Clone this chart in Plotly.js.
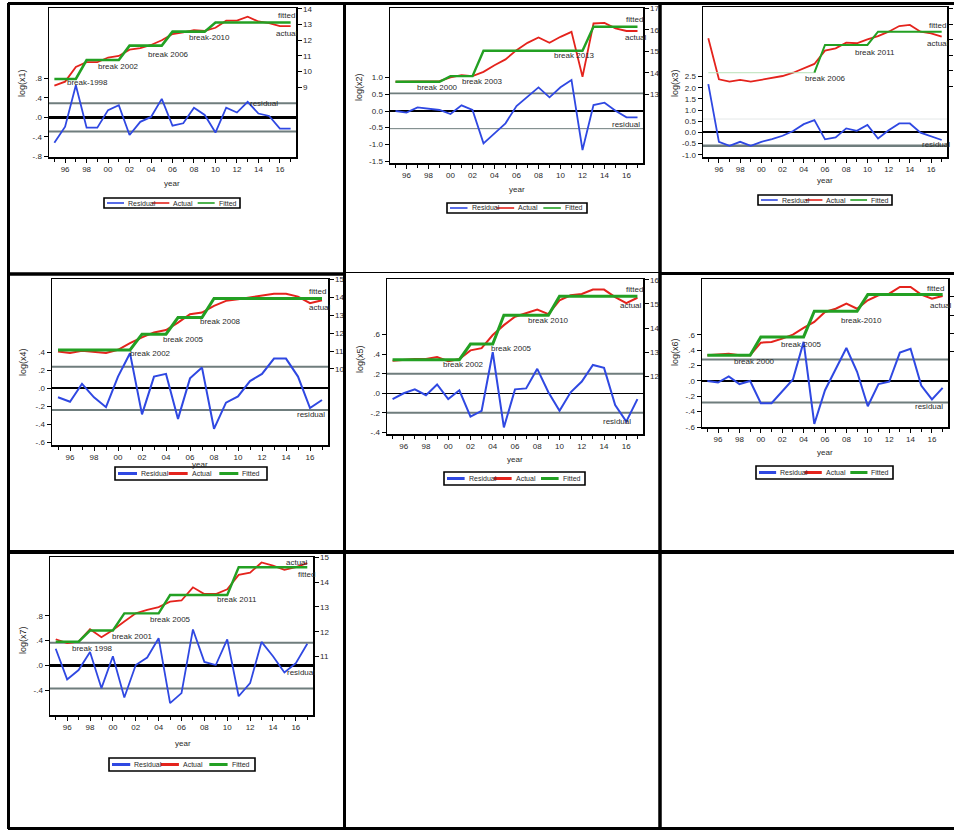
<!DOCTYPE html>
<html><head><meta charset="utf-8">
<script src="https://cdn.plot.ly/plotly-3.0.1.min.js"></script>
<style>html,body{margin:0;padding:0;background:#fff}#chart{width:954px;height:830px}</style>
</head><body><div id="chart"></div>
<script>
// ---------- data ----------
const years = [1995,1996,1997,1998,1999,2000,2001,2002,2003,2004,2005,2006,2007,2008,2009,2010,2011,2012,2013,2014,2015,2016,2017];
const xTickVals = [1996,1998,2000,2002,2004,2006,2008,2010,2012,2014,2016];
const xTickText = ['96','98','00','02','04','06','08','10','12','14','16'];
const seriesNames = ['Residual','Actual','Fitted'];
const yTitles = ['log(x1)','log(x2)','log(x3)','log(x4)','log(x5)','log(x6)','log(x7)'];

const resid1  = [-0.52,-0.19,0.66,-0.21,-0.21,0.15,0.25,-0.36,-0.09,0.01,0.38,-0.17,-0.12,0.20,0.05,-0.31,0.20,0.10,0.32,0.08,0.03,-0.23,-0.23];
const actual1 = [9.10,9.36,10.30,10.60,10.60,10.90,11.00,11.40,11.50,11.70,12.00,12.40,12.50,12.65,12.60,12.80,13.25,13.25,13.50,13.20,13.10,12.90,12.90];
const fitted1 = [9.53,9.53,9.53,10.74,10.74,10.74,10.74,11.66,11.66,11.66,11.66,12.55,12.55,12.55,12.55,13.13,13.13,13.13,13.13,13.13,13.13,13.13,13.13];
const band1 = 0.29;
const leftTicks1 = [-0.8,-0.4,0,0.4,0.8];
const leftText1 = ['-.8','-.4','.0','.4','.8'];
const rightTicks1 = [9,10,11,12,13,14];
const breaks1 = ['break-1998','break 2002','break 2006','break-2010'];

const resid2  = [0.00,-0.05,0.11,0.07,0.03,-0.09,0.17,0.03,-0.97,-0.67,-0.37,0.15,0.43,0.71,0.41,0.71,0.93,-1.17,0.18,0.25,0.01,-0.19,-0.19];
const actual2 = [13.59,13.59,13.59,13.59,13.62,13.79,13.90,13.85,14.05,14.36,14.63,15.06,15.40,15.65,15.40,15.68,15.91,13.82,16.30,16.33,16.07,15.95,15.95];
const fitted2 = [13.59,13.59,13.59,13.59,13.59,13.85,13.85,13.85,15.03,15.03,15.03,15.03,15.03,15.03,15.03,15.03,15.03,15.03,16.15,16.15,16.15,16.15,16.15];
const band2 = 0.53;
const leftTicks2 = [-1.5,-1.0,-0.5,0,0.5,1.0];
const leftText2 = ['-1.5','-1.0','-0.5','0.0','0.5','1.0'];
const rightTicks2 = [13,14,15,16,17];
const breaks2 = ['break 2000','break 2003','break 2013'];

const resid3  = [2.16,-0.42,-0.60,-0.42,-0.60,-0.42,-0.30,-0.15,0.06,0.37,0.55,-0.31,-0.22,0.18,0.07,0.33,-0.27,0.10,0.40,0.40,-0.01,-0.16,-0.34];
const actual3 = [13.09,10.47,10.32,10.43,10.32,10.43,10.53,10.68,10.89,11.17,11.45,12.30,12.45,12.81,12.77,13.02,13.23,13.51,13.87,13.94,13.51,13.40,13.19];
const fitted3 = [10.89,10.89,10.89,10.89,10.89,10.89,10.89,10.89,10.89,10.89,10.89,12.66,12.66,12.66,12.66,12.66,13.51,13.51,13.51,13.51,13.51,13.51,13.51];
const band3 = 0.60;
const leftTicks3 = [-1.0,-0.5,0,0.5,1.0,1.5,2.0,2.5];
const leftText3 = ['-1.0','-0.5','0.0','0.5','1.0','1.5','2.0','2.5'];
const rightTicks3 = [10,11,12,13,14,15];
const breaks3 = ['break 2006','break 2011'];

const resid4  = [-0.10,-0.15,0.05,-0.10,-0.21,0.13,0.39,-0.29,0.13,0.16,-0.34,0.11,0.23,-0.45,-0.16,-0.09,0.08,0.16,0.33,0.33,0.13,-0.22,-0.13];
const actual4 = [10.98,10.89,11.02,10.96,10.89,11.07,11.44,11.76,12.04,12.17,12.59,13.06,13.15,13.52,13.80,13.89,13.98,14.07,14.20,14.20,14.04,13.67,13.83];
const fitted4 = [11.06,11.06,11.06,11.06,11.06,11.06,11.06,11.94,11.94,11.94,12.87,12.87,12.87,13.93,13.93,13.93,13.93,13.93,13.93,13.93,13.93,13.93,13.93];
const band4 = 0.24;
const leftTicks4 = [-0.6,-0.4,-0.2,0,0.2,0.4];
const leftText4 = ['-.6','-.4','-.2','.0','.2','.4'];
const rightTicks4 = [10,11,12,13,14,15];
const breaks4 = ['break 2002','break 2005','break 2008'];

const resid5  = [-0.06,0.00,0.04,-0.02,0.09,-0.06,0.03,-0.24,-0.18,0.42,-0.35,0.04,0.05,0.25,0.01,-0.18,0.01,0.12,0.29,0.26,-0.12,-0.29,-0.06];
const actual5 = [12.64,12.68,12.71,12.71,12.79,12.62,12.71,13.07,13.16,13.71,14.12,14.47,14.63,14.77,14.58,15.15,15.36,15.42,15.60,15.60,15.29,15.04,15.26];
const fitted5 = [12.68,12.68,12.68,12.68,12.68,12.68,12.68,13.33,13.33,13.33,14.53,14.53,14.53,14.53,14.53,15.32,15.32,15.32,15.32,15.32,15.32,15.32,15.32];
const band5 = 0.20;
const leftTicks5 = [-0.4,-0.2,0,0.2,0.4,0.6];
const leftText5 = ['-.4','-.2','.0','.2','.4','.6'];
const rightTicks5 = [12,13,14,15,16];
const breaks5 = ['break 2002','break 2005','break 2010'];

const resid6  = [0.00,-0.02,0.06,-0.04,0.00,-0.29,-0.29,-0.13,0.02,0.51,-0.56,-0.12,0.16,0.43,0.12,-0.33,-0.04,-0.01,0.37,0.42,-0.06,-0.24,-0.09];
const actual6 = [11.82,11.85,11.91,11.82,11.82,12.51,12.55,12.73,12.95,13.31,13.64,14.18,14.36,14.64,14.36,14.82,15.09,15.18,15.55,15.55,15.13,14.91,15.05];
const fitted6 = [11.82,11.82,11.82,11.82,11.82,12.82,12.82,12.82,12.82,12.82,14.22,14.22,14.22,14.22,14.22,15.13,15.13,15.13,15.13,15.13,15.13,15.13,15.13];
const band6 = 0.28;
const leftTicks6 = [-0.6,-0.4,-0.2,0,0.2,0.4,0.6];
const leftText6 = ['-.6','-.4','-.2','.0','.2','.4','.6'];
const rightTicks6 = [12,13,14,15];
const breaks6 = ['break 2000','break 2005','break-2010'];

const resid7  = [0.27,-0.22,-0.07,0.22,-0.36,0.15,-0.51,0.01,0.13,0.44,-0.60,-0.44,0.58,0.06,0.01,0.42,-0.49,-0.28,0.38,0.15,-0.11,0.04,0.35];
const actual7 = [11.70,11.54,11.60,12.10,11.78,12.07,12.41,12.74,12.88,12.99,13.21,13.26,13.79,13.52,13.52,13.71,14.29,14.38,14.79,14.66,14.49,14.60,14.76];
const fitted7 = [11.60,11.60,11.60,12.05,12.05,12.05,12.74,12.74,12.74,12.74,13.48,13.48,13.48,13.48,13.48,13.48,14.60,14.60,14.60,14.60,14.60,14.60,14.60];
const band7 = 0.365;
const leftTicks7 = [-0.8,-0.4,0,0.4,0.8];
const leftText7 = ['-.8','-.4','.0','.4','.8'];
const rightTicks7 = [11,12,13,14,15];
const breaks7 = ['break 1998','break 2001','break 2005','break 2011'];

// ---------- styling / layout ----------
const W = 954, H = 830;
const PX = x => x / W;
const PY = y => 1 - y / H;
const BLUE = '#2f48e2', RED = '#e4231c', GREEN = '#23a023', GRAY = '#6f7d7d';
const FONT = 'Liberation Sans, Arial, sans-serif';
const TXT = '#2a2a2a';

const panels = [
  {resid:resid1, actual:actual1, fitted:fitted1, band:band1, lt:leftTicks1, ltt:leftText1, rt:rightTicks1, breaks:breaks1,
   box:[49,8,296,157], left:[-0.81,2.24], right:[4.55,14.06],
   bpos:[[65,83],[96,67],[146,54],[187,38]], fpos:[276,15], apos:[274,33], rpos:[248,104],
   yt:[22,83], xt:[172,183], leg:[104,198,240,208], fw:2.6, lw:1.8, zw:2.2},
  {resid:resid2, actual:actual2, fitted:fitted2, band:band2, lt:leftTicks2, ltt:leftText2, rt:rightTicks2, breaks:breaks2,
   box:[390,8,643,163], left:[-1.56,3.09], right:[9.81,17.02],
   bpos:[[415,88],[460,81],[552,56]], fpos:[624,20], apos:[623,38], rpos:[610,125],
   yt:[359,87], xt:[517,189], leg:[447,203,587,213], fw:2.4, lw:1.8, zw:2.4},
  {resid:resid3, actual:actual3, fitted:fitted3, band:band3, lt:leftTicks3, ltt:leftText3, rt:rightTicks3, breaks:breaks3,
   box:[703,7,947,157], left:[-1.1,5.61], right:[5.51,15.085],
   bpos:[[803,79],[853,52]], fpos:[927,26], apos:[925,43], rpos:[920,144],
   yt:[675,83], xt:[825,181], leg:[758,195,892,205], fw:2.0, lw:1.8, zw:2.0, faintUntil:2005},
  {resid:resid4, actual:actual4, fitted:fitted4, band:band4, lt:leftTicks4, ltt:leftText4, rt:rightTicks4, breaks:breaks4,
   box:[52,279,328,445], left:[-0.63,1.214], right:[5.76,15.02],
   bpos:[[128,353],[161,339],[198,321]], fpos:[307,291], apos:[307,307], rpos:[295,414],
   yt:[23,362], xt:[200,464], leg:[115,467,267,480], fw:3.0, lw:2.0, zw:2.2},
  {resid:resid5, actual:actual5, fitted:fitted5, band:band5, lt:leftTicks5, ltt:leftText5, rt:rightTicks5, breaks:breaks5,
   box:[387,279,643,434], left:[-0.417,1.17], right:[9.59,16.04],
   bpos:[[441,364],[489,348],[526,320]], fpos:[624,289], apos:[618,305], rpos:[601,421],
   yt:[360,359], xt:[515,459], leg:[444,472,585,485], fw:3.0, lw:2.0, zw:1.5},
  {resid:resid6, actual:actual6, fitted:fitted6, band:band6, lt:leftTicks6, ltt:leftText6, rt:rightTicks6, breaks:breaks6,
   box:[702,279,948,427], left:[-0.6,1.33], right:[7.91,15.98],
   bpos:[[732,361],[779,344],[839,320]], fpos:[925,288], apos:[928,305], rpos:[913,407],
   yt:[675,352], xt:[825,452], leg:[756,466,893,479], fw:3.0, lw:2.0, zw:1.4},
  {resid:resid7, actual:actual7, fitted:fitted7, band:band7, lt:leftTicks7, ltt:leftText7, rt:rightTicks7, breaks:breaks7,
   box:[50,557,313,715], left:[-0.79,1.74], right:[8.65,15.01],
   bpos:[[70,648],[110,636],[148,619],[215,599]], fpos:[296,574], apos:[284,562], rpos:[285,672],
   yt:[23,640], xt:[183,743], leg:[109,758,255,771], fw:2.4, lw:1.8, zw:2.4}
];

const traces = [];
const layout = {
  width: W, height: H, margin:{l:0,r:0,t:0,b:0}, paper_bgcolor:'#fff', plot_bgcolor:'#fff',
  showlegend:false, shapes:[], annotations:[], font:{family:FONT, color:TXT, size:8}
};

function txt(x, y, text, opts) {
  layout.annotations.push(Object.assign({xref:'paper', yref:'paper', x:PX(x), y:PY(y), text:text,
    showarrow:false, xanchor:'left', yanchor:'middle', font:{family:FONT, size:8, color:TXT}}, opts || {}));
}

panels.forEach((p, i) => {
  const k = i + 1;
  const xa = k === 1 ? 'x' : 'x' + k;
  const yl = k === 1 ? 'y' : 'y' + (2*k - 1);
  const yr = 'y' + (2*k);
  const xkey = k === 1 ? 'xaxis' : 'xaxis' + k;
  const ylkey = k === 1 ? 'yaxis' : 'yaxis' + (2*k - 1);
  const yrkey = 'yaxis' + (2*k);
  const [x0, y0, x1, y1] = p.box;
  const tf = {family:FONT, size:8, color:TXT};

  layout[xkey] = {domain:[PX(x0), PX(x1)], anchor:yl, range:[1994.5, 2017.5], tickmode:'array',
    tickvals:xTickVals, ticktext:xTickText, ticks:'outside', ticklen:4, tickcolor:'#000', tickwidth:1,
    showline:true, mirror:true, linecolor:'#000', linewidth:1.5, showgrid:false, zeroline:false, tickfont:tf,
    minor:{tickmode:'array', tickvals:years, ticks:'outside', ticklen:3, tickcolor:'#000', showgrid:false}};
  layout[ylkey] = {domain:[PY(y1), PY(y0)], anchor:xa, range:p.left, tickmode:'array', tickvals:p.lt, ticktext:p.ltt,
    ticks:'outside', ticklen:4, tickcolor:'#000', showline:true, linecolor:'#000', linewidth:1.5, showgrid:false,
    zeroline:true, zerolinecolor:'#000', zerolinewidth:p.zw, tickfont:tf};
  layout[yrkey] = {overlaying:yl, side:'right', anchor:xa, range:p.right, tickmode:'array', tickvals:p.rt,
    ticks:'outside', ticklen:4, tickcolor:'#000', showline:true, linecolor:'#000', linewidth:1.5, showgrid:false,
    zeroline:false, tickfont:tf};

  // std bands
  layout.shapes.push({type:'line', xref:xa + ' domain', yref:yl, x0:0, x1:1, y0:p.band, y1:p.band,
    line:{color: k === 3 ? '#e4e8e8' : GRAY, width: k === 3 ? 1 : (k === 2 ? 1.8 : 2)}, layer:'below'});
  layout.shapes.push({type:'line', xref:xa + ' domain', yref:yl, x0:0, x1:1, y0:-p.band, y1:-p.band,
    line:{color:GRAY, width: k === 2 ? 1 : (k === 3 ? 2.6 : 2)}, layer:'below'});

  traces.push({x:years, y:p.resid, xaxis:xa, yaxis:yl, mode:'lines', name:seriesNames[0],
    line:{color:BLUE, width:p.lw}, hoverinfo:'skip'});
  traces.push({x:years, y:p.actual, xaxis:xa, yaxis:yr, mode:'lines', name:seriesNames[1],
    line:{color:RED, width:p.lw}, hoverinfo:'skip'});
  if (p.faintUntil) {
    traces.push({x:years, y:p.fitted.map((v, j) => years[j] <= p.faintUntil ? v : null), xaxis:xa, yaxis:yr,
      mode:'lines', line:{color:'#b8e0b8', width:1}, hoverinfo:'skip'});
    traces.push({x:years, y:p.fitted.map((v, j) => years[j] >= p.faintUntil ? v : null), xaxis:xa, yaxis:yr,
      mode:'lines', name:seriesNames[2], line:{color:GREEN, width:p.fw}, hoverinfo:'skip'});
  } else {
    traces.push({x:years, y:p.fitted, xaxis:xa, yaxis:yr, mode:'lines', name:seriesNames[2],
      line:{color:GREEN, width:p.fw}, hoverinfo:'skip'});
  }

  // text labels
  p.breaks.forEach((b, j) => txt(p.bpos[j][0], p.bpos[j][1], b));
  txt(p.fpos[0], p.fpos[1], 'fitted');
  txt(p.apos[0], p.apos[1], 'actual');
  txt(p.rpos[0], p.rpos[1], 'residual');
  txt(p.yt[0], p.yt[1], yTitles[i], {xanchor:'center', textangle:-90, font:{family:FONT, size:9, color:TXT}});
  txt(p.xt[0], p.xt[1], 'year', {xanchor:'center', font:{family:FONT, size:8, color:TXT}});

  // legend box
  const [lx0, ly0, lx1, ly1] = p.leg;
  const lwid = lx1 - lx0, lh = ly1 - ly0, lym = (ly0 + ly1) / 2;
  layout.shapes.push({type:'rect', xref:'paper', yref:'paper', x0:PX(lx0), x1:PX(lx1), y0:PY(ly1), y1:PY(ly0),
    line:{color:'#000', width:1.6}, fillcolor:'#fff'});
  [BLUE, RED, GREEN].forEach((c, j) => {
    const s = lx0 + 3 + j * lwid / 3;
    const len = lwid * 0.125;
    layout.shapes.push({type:'line', xref:'paper', yref:'paper', x0:PX(s), x1:PX(s + len), y0:PY(lym), y1:PY(lym),
      line:{color:c, width: lh > 11 ? 3 : 1.6}});
    txt(s + len + 2, lym, seriesNames[j], {font:{family:FONT, size:7, color:TXT}});
  });
});

// outer grid frame
const frame = [
  [8, 3.5, 954, 3.5, 3], [8.5, 3, 8.5, 829, 3], [8, 828.5, 954, 828.5, 3],
  [344.5, 3, 344.5, 829, 3], [660, 3, 660, 829, 3.5],
  [8, 274, 344.5, 274, 3.5], [344.5, 272.5, 660, 272.5, 1.2], [660, 273.5, 954, 273.5, 3],
  [8, 552, 954, 552, 4]
];
frame.forEach(f => layout.shapes.push({type:'line', xref:'paper', yref:'paper', x0:PX(f[0]), x1:PX(f[2]),
  y0:PY(f[1]), y1:PY(f[3]), line:{color:'#000', width:f[4]}}));

Plotly.newPlot('chart', traces, layout, {staticPlot:true, displayModeBar:false});
</script>
</body></html>
